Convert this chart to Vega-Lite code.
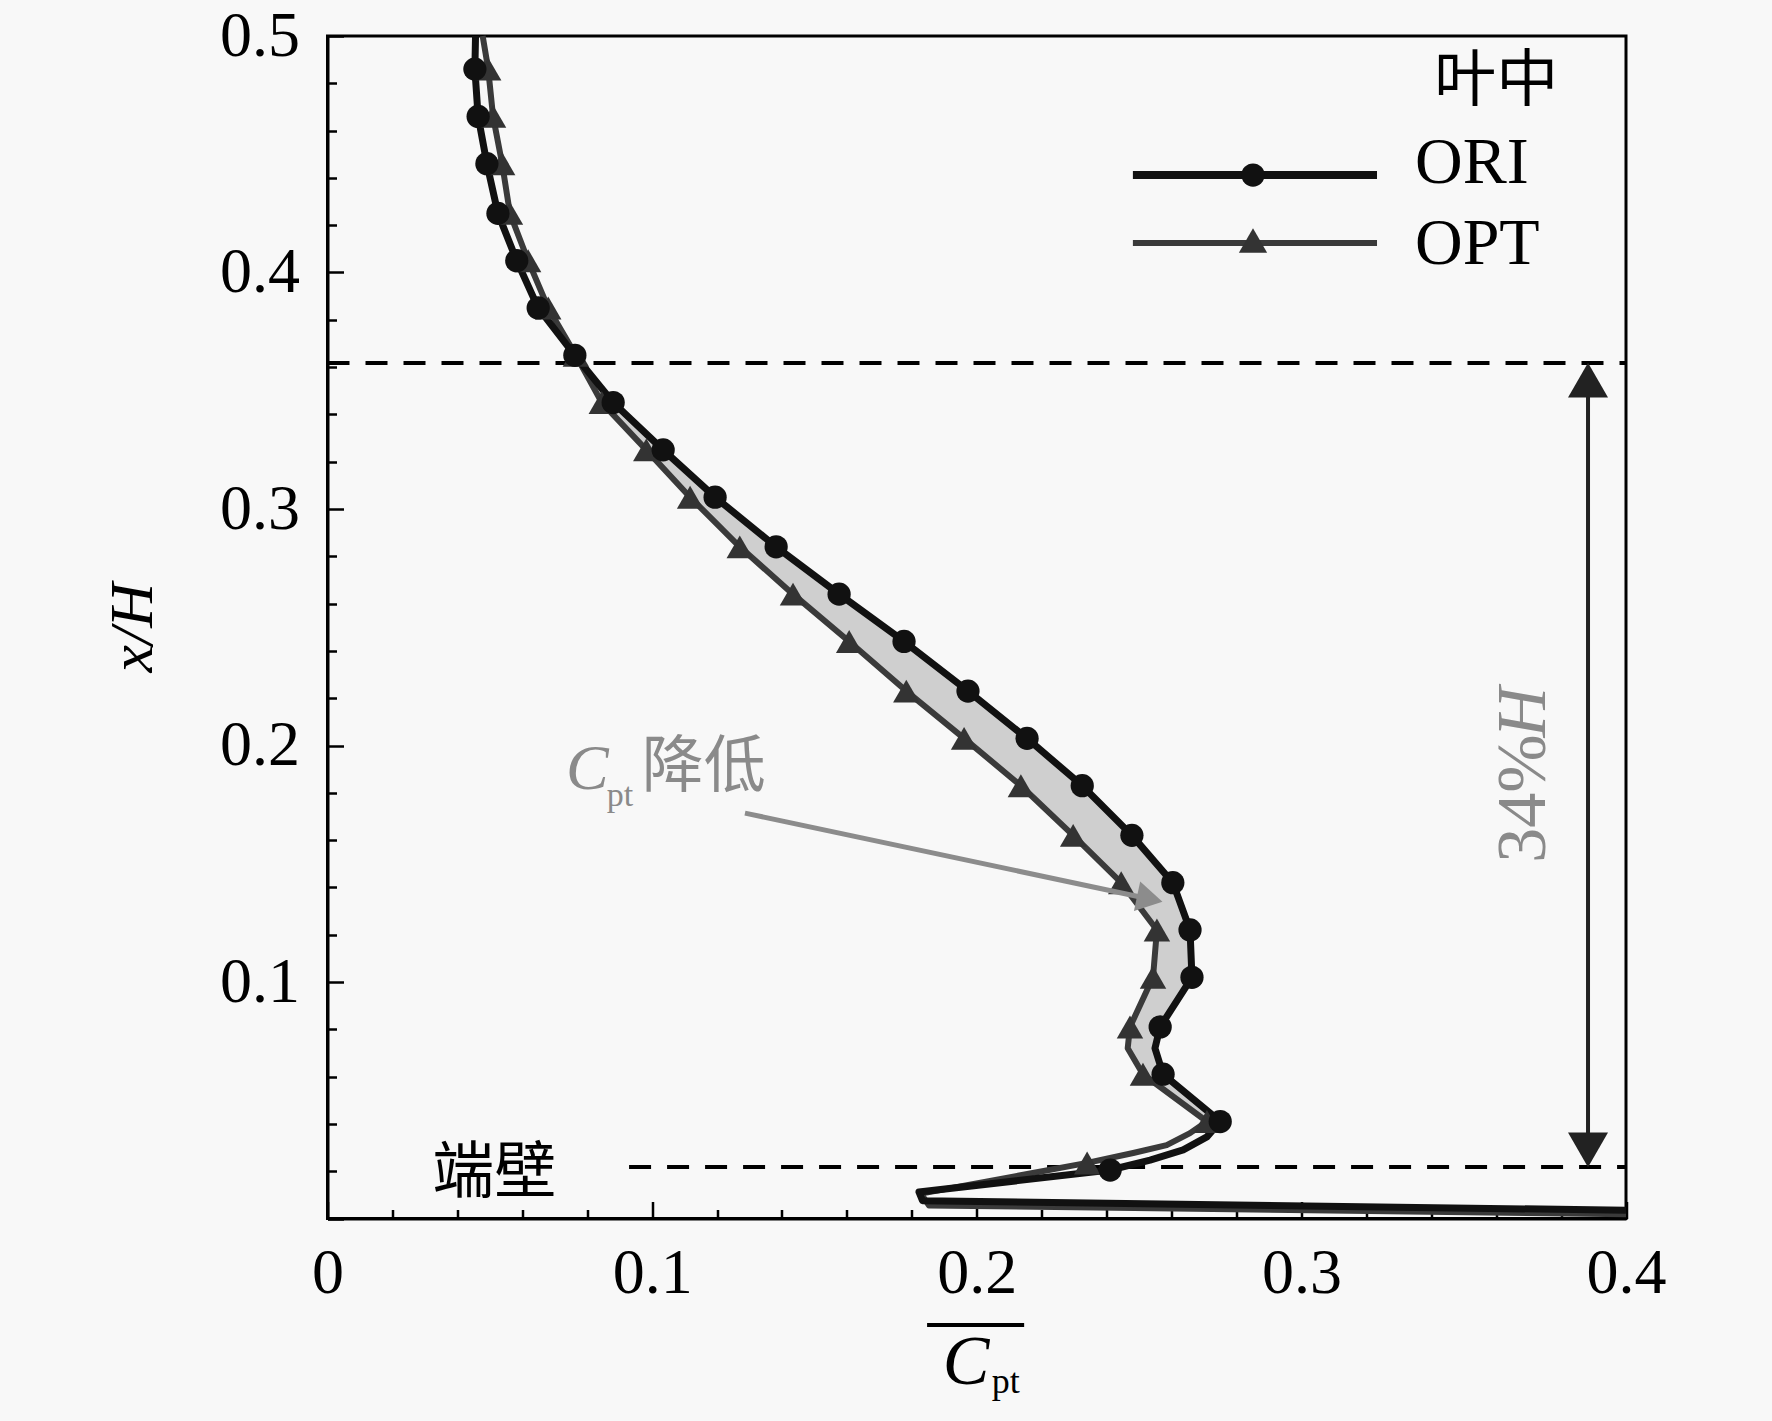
{
  "$schema": "https://vega.github.io/schema/vega-lite/v6.json",
  "width": 1298.5,
  "height": 1182.5,
  "autosize": {"type": "none"},
  "padding": {"left": 327.5, "top": 36, "right": 146, "bottom": 202.5},
  "background": "#f8f8f8",
  "config": {
    "view": {"stroke": "#000000", "strokeWidth": 3},
    "font": "Liberation Serif"
  },
  "datasets": {
    "curves": [
      {"s": "ORI", "i": 0, "x": 0.0456, "y": 0.5, "m": 0},
      {"s": "ORI", "i": 1, "x": 0.0454, "y": 0.486, "m": 1},
      {"s": "ORI", "i": 2, "x": 0.0464, "y": 0.466, "m": 1},
      {"s": "ORI", "i": 3, "x": 0.0491, "y": 0.446, "m": 1},
      {"s": "ORI", "i": 4, "x": 0.0525, "y": 0.425, "m": 1},
      {"s": "ORI", "i": 5, "x": 0.0583, "y": 0.405, "m": 1},
      {"s": "ORI", "i": 6, "x": 0.0649, "y": 0.385, "m": 1},
      {"s": "ORI", "i": 7, "x": 0.0762, "y": 0.365, "m": 1},
      {"s": "ORI", "i": 8, "x": 0.088, "y": 0.345, "m": 1},
      {"s": "ORI", "i": 9, "x": 0.1034, "y": 0.325, "m": 1},
      {"s": "ORI", "i": 10, "x": 0.1194, "y": 0.305, "m": 1},
      {"s": "ORI", "i": 11, "x": 0.1382, "y": 0.284, "m": 1},
      {"s": "ORI", "i": 12, "x": 0.1576, "y": 0.264, "m": 1},
      {"s": "ORI", "i": 13, "x": 0.1776, "y": 0.244, "m": 1},
      {"s": "ORI", "i": 14, "x": 0.1973, "y": 0.223, "m": 1},
      {"s": "ORI", "i": 15, "x": 0.2155, "y": 0.203, "m": 1},
      {"s": "ORI", "i": 16, "x": 0.2325, "y": 0.183, "m": 1},
      {"s": "ORI", "i": 17, "x": 0.2478, "y": 0.162, "m": 1},
      {"s": "ORI", "i": 18, "x": 0.2604, "y": 0.142, "m": 1},
      {"s": "ORI", "i": 19, "x": 0.2657, "y": 0.122, "m": 1},
      {"s": "ORI", "i": 20, "x": 0.2663, "y": 0.102, "m": 1},
      {"s": "ORI", "i": 21, "x": 0.2565, "y": 0.081, "m": 1},
      {"s": "ORI", "i": 22, "x": 0.2549, "y": 0.072, "m": 0},
      {"s": "ORI", "i": 23, "x": 0.2574, "y": 0.061, "m": 1},
      {"s": "ORI", "i": 24, "x": 0.275, "y": 0.041, "m": 1},
      {"s": "ORI", "i": 25, "x": 0.2709, "y": 0.0345, "m": 0},
      {"s": "ORI", "i": 26, "x": 0.2636, "y": 0.029, "m": 0},
      {"s": "ORI", "i": 27, "x": 0.2534, "y": 0.0247, "m": 0},
      {"s": "ORI", "i": 28, "x": 0.2411, "y": 0.0205, "m": 1},
      {"s": "ORI", "i": 29, "x": 0.1822, "y": 0.0112, "m": 0},
      {"s": "ORI", "i": 30, "x": 0.1833, "y": 0.0075, "m": 0},
      {"s": "ORI", "i": 31, "x": 0.4, "y": 0.0035, "m": 0},
      {"s": "OPT", "i": 0, "x": 0.0478, "y": 0.5, "m": 0},
      {"s": "OPT", "i": 1, "x": 0.0495, "y": 0.486, "m": 1},
      {"s": "OPT", "i": 2, "x": 0.051, "y": 0.466, "m": 1},
      {"s": "OPT", "i": 3, "x": 0.0538, "y": 0.446, "m": 1},
      {"s": "OPT", "i": 4, "x": 0.0562, "y": 0.425, "m": 1},
      {"s": "OPT", "i": 5, "x": 0.0618, "y": 0.405, "m": 1},
      {"s": "OPT", "i": 6, "x": 0.068, "y": 0.385, "m": 1},
      {"s": "OPT", "i": 7, "x": 0.0765, "y": 0.365, "m": 1},
      {"s": "OPT", "i": 8, "x": 0.0845, "y": 0.345, "m": 1},
      {"s": "OPT", "i": 9, "x": 0.0982, "y": 0.325, "m": 1},
      {"s": "OPT", "i": 10, "x": 0.1117, "y": 0.305, "m": 1},
      {"s": "OPT", "i": 11, "x": 0.127, "y": 0.284, "m": 1},
      {"s": "OPT", "i": 12, "x": 0.1434, "y": 0.264, "m": 1},
      {"s": "OPT", "i": 13, "x": 0.1607, "y": 0.244, "m": 1},
      {"s": "OPT", "i": 14, "x": 0.1783, "y": 0.223, "m": 1},
      {"s": "OPT", "i": 15, "x": 0.1961, "y": 0.203, "m": 1},
      {"s": "OPT", "i": 16, "x": 0.2136, "y": 0.183, "m": 1},
      {"s": "OPT", "i": 17, "x": 0.2297, "y": 0.162, "m": 1},
      {"s": "OPT", "i": 18, "x": 0.2445, "y": 0.142, "m": 1},
      {"s": "OPT", "i": 19, "x": 0.2555, "y": 0.122, "m": 1},
      {"s": "OPT", "i": 20, "x": 0.2543, "y": 0.102, "m": 1},
      {"s": "OPT", "i": 21, "x": 0.2472, "y": 0.081, "m": 1},
      {"s": "OPT", "i": 22, "x": 0.2465, "y": 0.072, "m": 0},
      {"s": "OPT", "i": 23, "x": 0.2512, "y": 0.061, "m": 1},
      {"s": "OPT", "i": 24, "x": 0.2709, "y": 0.041, "m": 1},
      {"s": "OPT", "i": 25, "x": 0.2657, "y": 0.0361, "m": 0},
      {"s": "OPT", "i": 26, "x": 0.2585, "y": 0.031, "m": 0},
      {"s": "OPT", "i": 27, "x": 0.2482, "y": 0.0277, "m": 0},
      {"s": "OPT", "i": 28, "x": 0.234, "y": 0.0235, "m": 1},
      {"s": "OPT", "i": 29, "x": 0.1828, "y": 0.0105, "m": 0},
      {"s": "OPT", "i": 30, "x": 0.1853, "y": 0.0055, "m": 0},
      {"s": "OPT", "i": 31, "x": 0.4, "y": 0.0018, "m": 0}
    ],
    "band": [
      {"y": 0.365, "x": 0.0762, "x2": 0.0765},
      {"y": 0.345, "x": 0.088, "x2": 0.0845},
      {"y": 0.325, "x": 0.1034, "x2": 0.0982},
      {"y": 0.305, "x": 0.1194, "x2": 0.1117},
      {"y": 0.284, "x": 0.1382, "x2": 0.127},
      {"y": 0.264, "x": 0.1576, "x2": 0.1434},
      {"y": 0.244, "x": 0.1776, "x2": 0.1607},
      {"y": 0.223, "x": 0.1973, "x2": 0.1783},
      {"y": 0.203, "x": 0.2155, "x2": 0.1961},
      {"y": 0.183, "x": 0.2325, "x2": 0.2136},
      {"y": 0.162, "x": 0.2478, "x2": 0.2297},
      {"y": 0.142, "x": 0.2604, "x2": 0.2445},
      {"y": 0.122, "x": 0.2657, "x2": 0.2555},
      {"y": 0.102, "x": 0.2663, "x2": 0.2543},
      {"y": 0.081, "x": 0.2565, "x2": 0.2472},
      {"y": 0.072, "x": 0.2549, "x2": 0.2465},
      {"y": 0.061, "x": 0.2574, "x2": 0.2512},
      {"y": 0.041, "x": 0.275, "x2": 0.2709}
    ]
  },
  "encoding": {
    "x": {
      "field": "x",
      "type": "quantitative",
      "scale": {"domain": [0, 0.4], "nice": false, "zero": false},
      "axis": {
        "title": null,
        "grid": false,
        "values": [0, 0.02, 0.04, 0.06, 0.08, 0.1, 0.12, 0.14, 0.16, 0.18, 0.2, 0.22, 0.24, 0.26, 0.28, 0.3, 0.32, 0.34, 0.36, 0.38, 0.4],
        "labelExpr": "abs(datum.value * 10 - round(datum.value * 10)) < 0.001 ? (datum.value == 0 ? '0' : format(datum.value, '.1f')) : ''",
        "tickSize": {"condition": {"test": "abs(datum.value * 10 - round(datum.value * 10)) < 0.001", "value": -17}, "value": -9},
        "tickWidth": 2.5,
        "tickColor": "#000000",
        "domainColor": "#000000",
        "domainWidth": 3,
        "labelFont": "Liberation Serif",
        "labelFontSize": 64,
        "labelColor": "#000000",
        "labelPadding": 40,
        "labelFlush": false,
        "labelBound": false,
        "labelOverlap": false
      }
    },
    "y": {
      "field": "y",
      "type": "quantitative",
      "scale": {"domain": [0, 0.5], "nice": false, "zero": false},
      "axis": {
        "title": "x/H",
        "titleFont": "Liberation Serif",
        "titleFontStyle": "italic",
        "titleFontWeight": "normal",
        "titleFontSize": 62,
        "titleColor": "#000000",
        "titlePadding": 55,
        "grid": false,
        "values": [0, 0.02, 0.04, 0.06, 0.08, 0.1, 0.12, 0.14, 0.16, 0.18, 0.2, 0.22, 0.24, 0.26, 0.28, 0.3, 0.32, 0.34, 0.36, 0.38, 0.4, 0.42, 0.44, 0.46, 0.48, 0.5],
        "labelExpr": "abs(datum.value * 10 - round(datum.value * 10)) < 0.001 && datum.value > 0 ? format(datum.value, '.1f') : ''",
        "tickSize": {"condition": {"test": "abs(datum.value * 10 - round(datum.value * 10)) < 0.001", "value": -16}, "value": -9},
        "tickWidth": 2.5,
        "tickColor": "#000000",
        "domainColor": "#000000",
        "domainWidth": 3,
        "labelFont": "Liberation Serif",
        "labelFontSize": 64,
        "labelColor": "#000000",
        "labelPadding": 44,
        "labelFlush": false,
        "labelBound": false,
        "labelOverlap": false
      }
    }
  },
  "layer": [
    {
      "data": {"name": "band"},
      "mark": {"type": "area", "orient": "horizontal", "color": "#cfcfcf"},
      "encoding": {"x2": {"field": "x2"}}
    },
    {
      "data": {"values": [
        {"x": 0, "x2": 0.4, "y": 0.3617},
        {"x": 0.0929, "x2": 0.4, "y": 0.0218}
      ]},
      "mark": {"type": "rule", "color": "#000000", "strokeWidth": 4, "strokeDash": [22, 16]},
      "encoding": {"x2": {"field": "x2"}}
    },
    {
      "data": {"name": "curves"},
      "transform": [{"filter": "datum.s == 'OPT'"}],
      "mark": {"type": "line", "color": "#3a3a3a", "strokeWidth": 6, "strokeJoin": "round"},
      "encoding": {"order": {"field": "i", "type": "quantitative"}}
    },
    {
      "data": {"name": "curves"},
      "transform": [{"filter": "datum.s == 'ORI'"}],
      "mark": {"type": "line", "color": "#111111", "strokeWidth": 7, "strokeJoin": "round"},
      "encoding": {"order": {"field": "i", "type": "quantitative"}}
    },
    {
      "data": {"name": "curves"},
      "transform": [{"filter": "datum.s == 'OPT' && datum.m == 1"}],
      "mark": {"type": "point", "shape": "triangle-up", "filled": true, "color": "#333333", "size": 700, "opacity": 1}
    },
    {
      "data": {"name": "curves"},
      "transform": [{"filter": "datum.s == 'ORI' && datum.m == 1"}],
      "mark": {"type": "point", "shape": "circle", "filled": true, "color": "#111111", "size": 540, "opacity": 1}
    },
    {
      "data": {"values": [{"x": 0.3883, "y": 0.03, "y2": 0.354}]},
      "mark": {"type": "rule", "color": "#222222", "strokeWidth": 4},
      "encoding": {"y2": {"field": "y2"}}
    },
    {
      "data": {"values": [{"x": 0.3883, "y": 0.3545}]},
      "mark": {"type": "point", "shape": "triangle-up", "filled": true, "color": "#222222", "size": 1600, "opacity": 1}
    },
    {
      "data": {"values": [{"x": 0.3883, "y": 0.029}]},
      "mark": {"type": "point", "shape": "triangle-down", "filled": true, "color": "#222222", "size": 1600, "opacity": 1}
    },
    {
      "data": {"values": [{"x": 0.1286, "y": 0.1714, "x2": 0.2533, "y2": 0.1351}]},
      "mark": {"type": "rule", "color": "#8c8c8c", "strokeWidth": 5},
      "encoding": {"x2": {"field": "x2"}, "y2": {"field": "y2"}}
    },
    {
      "data": {"values": [{"x": 0.2533, "y": 0.1351}]},
      "mark": {"type": "point", "shape": "triangle-right", "filled": true, "color": "#8c8c8c", "size": 900, "angle": 12, "opacity": 1}
    },
    {
      "data": {"values": [
        {"s": "ORI", "x": 0.2481, "x2": 0.3233, "y": 0.4412}
      ]},
      "mark": {"type": "rule", "color": "#111111", "strokeWidth": 8},
      "encoding": {"x2": {"field": "x2"}}
    },
    {
      "data": {"values": [
        {"s": "OPT", "x": 0.2481, "x2": 0.3233, "y": 0.4125}
      ]},
      "mark": {"type": "rule", "color": "#3a3a3a", "strokeWidth": 6},
      "encoding": {"x2": {"field": "x2"}}
    },
    {
      "data": {"values": [{"x": 0.2851, "y": 0.4412}]},
      "mark": {"type": "point", "shape": "circle", "filled": true, "color": "#111111", "size": 540, "opacity": 1}
    },
    {
      "data": {"values": [{"x": 0.2851, "y": 0.4135}]},
      "mark": {"type": "point", "shape": "triangle-up", "filled": true, "color": "#333333", "size": 800, "opacity": 1}
    },
    {
      "data": {"values": [
        {"x": 0.335, "y": 0.4463, "t": "ORI"},
        {"x": 0.335, "y": 0.4122, "t": "OPT"}
      ]},
      "mark": {"type": "text", "font": "Liberation Serif", "fontSize": 66, "align": "left", "baseline": "middle", "color": "#000000"},
      "encoding": {"text": {"field": "t"}}
    },
    {
      "data": {"values": [
        {"x": 0.36, "y": 0.4805, "t": "叶中"},
        {"x": 0.0514, "y": 0.0188, "t": "端壁"}
      ]},
      "mark": {"type": "text", "font": "Noto Sans CJK SC", "fontSize": 62, "align": "center", "baseline": "middle", "color": "#000000"},
      "encoding": {"text": {"field": "t"}}
    },
    {
      "data": {"values": [{"x": 0.0968, "y": 0.1905, "t": "降低"}]},
      "mark": {"type": "text", "font": "Noto Sans CJK SC", "fontSize": 62, "align": "left", "baseline": "middle", "color": "#8a8a8a"},
      "encoding": {"text": {"field": "t"}}
    },
    {
      "data": {"values": [{"x": 0.0735, "y": 0.1895, "t": "C"}]},
      "mark": {"type": "text", "font": "Liberation Serif", "fontStyle": "italic", "fontSize": 64, "align": "left", "baseline": "middle", "color": "#8a8a8a"},
      "encoding": {"text": {"field": "t"}}
    },
    {
      "data": {"values": [{"x": 0.086, "y": 0.1744, "t": "pt"}]},
      "mark": {"type": "text", "font": "Liberation Serif", "fontSize": 34, "align": "left", "baseline": "alphabetic", "color": "#8a8a8a"},
      "encoding": {"text": {"field": "t"}}
    },
    {
      "data": {"values": [{"x": 0.3686, "y": 0.1775, "t": "34%"}]},
      "mark": {"type": "text", "font": "Liberation Serif", "fontSize": 70, "align": "center", "baseline": "middle", "angle": 270, "color": "#8a8a8a"},
      "encoding": {"text": {"field": "t"}}
    },
    {
      "data": {"values": [{"x": 0.3686, "y": 0.2141, "t": "H"}]},
      "mark": {"type": "text", "font": "Liberation Serif", "fontStyle": "italic", "fontSize": 70, "align": "center", "baseline": "middle", "angle": 270, "color": "#8a8a8a"},
      "encoding": {"text": {"field": "t"}}
    },
    {
      "data": {"values": [{"x": 0.1847, "x2": 0.2146, "y": -0.045}]},
      "mark": {"type": "rule", "color": "#000000", "strokeWidth": 4},
      "encoding": {"x2": {"field": "x2"}}
    },
    {
      "data": {"values": [{"x": 0.1895, "y": -0.0611, "t": "C"}]},
      "mark": {"type": "text", "font": "Liberation Serif", "fontStyle": "italic", "fontSize": 70, "align": "left", "baseline": "middle", "color": "#000000"},
      "encoding": {"text": {"field": "t"}}
    },
    {
      "data": {"values": [{"x": 0.2046, "y": -0.0738, "t": "pt"}]},
      "mark": {"type": "text", "font": "Liberation Serif", "fontSize": 36, "align": "left", "baseline": "alphabetic", "color": "#000000"},
      "encoding": {"text": {"field": "t"}}
    }
  ]
}
